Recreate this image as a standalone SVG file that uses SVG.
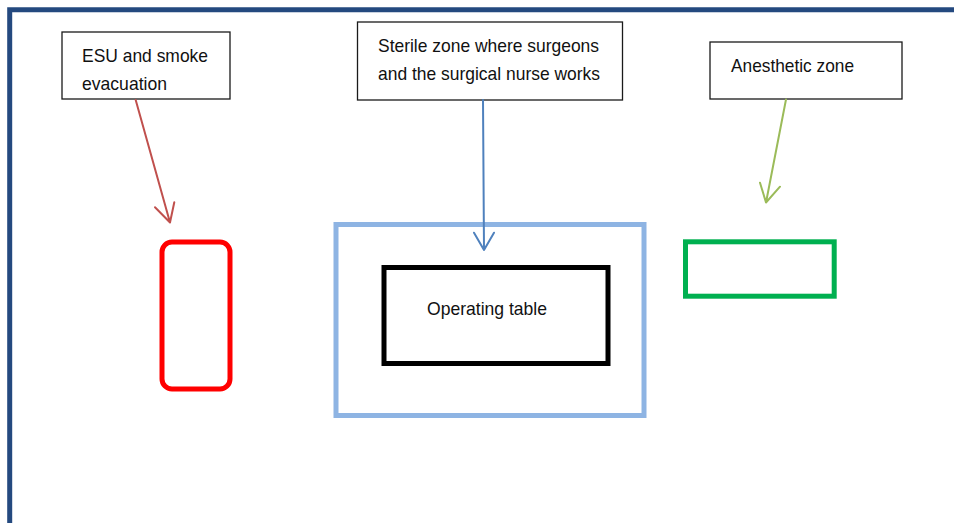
<svg xmlns="http://www.w3.org/2000/svg" width="954" height="523" viewBox="0 0 954 523">
<style>
.lbl{fill:#fff;stroke:#1a1a1a;stroke-width:1.3}
.t{font-family:"Liberation Sans",Arial,sans-serif;font-size:19px;fill:#111}
.conn{fill:none;stroke-width:2;stroke-linecap:round;stroke-linejoin:round}
</style>
<rect width="954" height="523" fill="#fff"/>
<path d="M9.7,523 V9.8 H954" fill="none" stroke="#24497f" stroke-width="5"/>
<g id="esu-label">
<rect class="lbl" x="62" y="32" width="168" height="67"/>
<text class="t" x="82" y="62" textLength="126" lengthAdjust="spacingAndGlyphs">ESU and smoke</text>
<text class="t" x="82" y="90" textLength="85" lengthAdjust="spacingAndGlyphs">evacuation</text>
</g>
<g id="sterile-label">
<rect class="lbl" x="357.5" y="22" width="265" height="78"/>
<text class="t" x="378" y="52" textLength="221" lengthAdjust="spacingAndGlyphs">Sterile zone where surgeons</text>
<text class="t" x="378" y="80" textLength="222" lengthAdjust="spacingAndGlyphs">and the surgical nurse works</text>
</g>
<g id="anesthetic-label">
<rect class="lbl" x="710" y="42" width="192" height="57"/>
<text class="t" x="731" y="72" textLength="123" lengthAdjust="spacingAndGlyphs">Anesthetic zone</text>
</g>
<g id="esu">
<rect x="162" y="242" width="68" height="147" rx="10" fill="none" stroke="#ff0000" stroke-width="5"/>
</g>
<g id="sterile-zone">
<rect x="336" y="224.5" width="308" height="191" fill="none" stroke="#8eb4e3" stroke-width="5"/>
</g>
<g id="operating-table">
<rect x="384" y="267.5" width="224" height="96" fill="none" stroke="#000" stroke-width="5"/>
<text class="t" x="427" y="315" textLength="120" lengthAdjust="spacingAndGlyphs">Operating table</text>
</g>
<g id="anesthetic-zone">
<rect x="685.5" y="241.8" width="148.7" height="54.4" fill="none" stroke="#00b050" stroke-width="5"/>
</g>
<g id="connectors">
<path class="conn" stroke="#c0504d" d="M135.7,100 L170,222.5 M155,207.3 L170,222.5 L174.3,202.3"/>
<path class="conn" stroke="#4f81bd" d="M483,100 L484,250 M474,232.7 L484,250 L494,232.7"/>
<path class="conn" stroke="#9bbb59" d="M786,99.5 L766,202.5 M760,182.7 L766,202.5 L780,186.7"/>
</g>
</svg>
